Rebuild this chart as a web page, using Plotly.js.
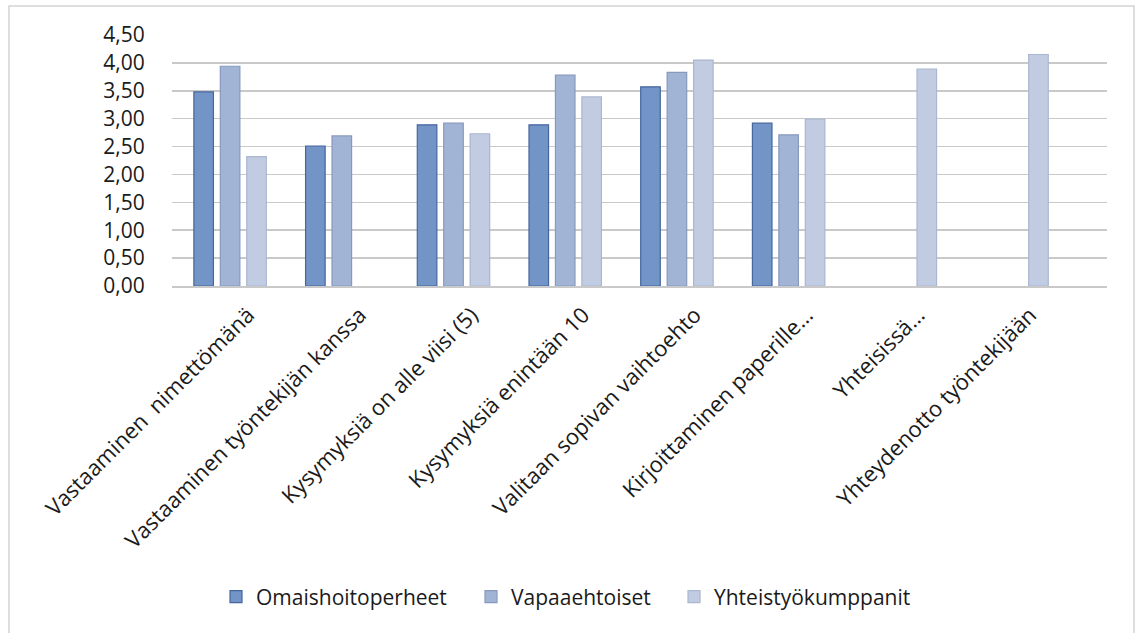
<!DOCTYPE html>
<html>
<head>
<meta charset="utf-8">
<script src="https://cdn.plot.ly/plotly-3.0.1.min.js"></script>
<style>
  html, body { margin: 0; padding: 0; background: #ffffff; }
  #chart { width: 1136px; height: 633px; }
</style>
</head>
<body>
<div id="chart"></div>
<script>
// Survey answer categories (x axis)
const categories = [
  "Vastaaminen  nimettömänä",
  "Vastaaminen työntekijän kanssa",
  "Kysymyksiä on alle viisi (5)",
  "Kysymyksiä enintään 10",
  "Valitaan sopivan vaihtoehto",
  "Kirjoittaminen paperille…",
  "Yhteisissä…",
  "Yhteydenotto työntekijään"
];

// Mean scores per respondent group (null = no answer for that group)
const omaishoitoperheet   = [3.48, 2.51, 2.89, 2.89, 3.57, 2.92, null, null];
const vapaaehtoiset       = [3.94, 2.69, 2.92, 3.78, 3.83, 2.71, null, null];
const yhteistyokumppanit  = [2.32, null, 2.73, 3.39, 4.05, 2.99, 3.89, 4.15];

const seriesNames = ["Omaishoitoperheet", "Vapaaehtoiset", "Yhteistyökumppanit"];

const W = 1136, H = 633;
const M = { l: 172, r: 29, t: 35, b: 347 };
const plotW = W - M.l - M.r, plotH = H - M.t - M.b;

const FONT = "'Open Sans', 'Noto Sans', sans-serif";
const TEXT = "#1a1a1a";
const GRID = "#c9c9c9";

function barTrace(name, values, fill, edge, entryWidth) {
  const t = {
    type: "bar",
    name: name,
    x: categories,
    y: values,
    marker: { color: fill, line: { color: edge, width: 1.2 } },
    hoverinfo: "x+y+name"
  };
  if (entryWidth) t.legendwidth = entryWidth;
  return t;
}

const data = [
  barTrace(seriesNames[0], omaishoitoperheet,  "#7294c7", "#45669e", 210),
  barTrace(seriesNames[1], vapaaehtoiset,      "#a2b4d6", "#8799bd", 158),
  barTrace(seriesNames[2], yhteistyokumppanit, "#c1cce2", "#a9b7cf")
];

// outer chart frame, expressed in paper units so it sits around the whole canvas
const px2x = v => (v - M.l) / plotW;
const px2y = v => 1 - (v - M.t) / plotH;

const layout = {
  width: W,
  height: H,
  margin: M,
  paper_bgcolor: "#ffffff",
  plot_bgcolor: "#ffffff",
  font: { family: FONT, size: 21, color: TEXT },
  separators: ", ",
  barmode: "group",
  bargap: 0.29,
  bargroupgap: 0.26,
  showlegend: true,
  legend: {
    orientation: "h",
    xref: "container",
    yref: "container",
    x: 216 / W,
    xanchor: "left",
    y: 1 - 597 / H,
    yanchor: "middle",
    font: { family: FONT, size: 21, color: TEXT },
    traceorder: "normal"
  },
  xaxis: {
    type: "category",
    categoryorder: "array",
    categoryarray: categories,
    range: [-0.52, 7.85],
    tickangle: -45,
    tickfont: { family: FONT, size: 22, color: TEXT },
    ticks: "outside",
    ticklen: 6,
    tickcolor: "rgba(0,0,0,0)",
    ticklabelshift: 18,
    showline: true,
    linecolor: GRID,
    linewidth: 1.5,
    showgrid: false,
    fixedrange: true
  },
  yaxis: {
    range: [0, 4.5],
    dtick: 0.5,
    tick0: 0,
    tickformat: ".2f",
    tickfont: { family: FONT, size: 21, color: TEXT },
    ticks: "outside",
    ticklen: 22,
    tickcolor: "rgba(0,0,0,0)",
    showgrid: true,
    gridcolor: GRID,
    gridwidth: 1.5,
    zeroline: false,
    showline: false,
    fixedrange: true
  },
  shapes: [{
    type: "rect",
    xref: "paper",
    yref: "paper",
    x0: px2x(9), x1: px2x(1134),
    y0: px2y(640), y1: px2y(6),
    line: { color: "#d4d4d4", width: 1.5 },
    fillcolor: "rgba(0,0,0,0)",
    layer: "below"
  }]
};

Plotly.newPlot("chart", data, layout, { displayModeBar: false, staticPlot: true });
</script>
</body>
</html>
